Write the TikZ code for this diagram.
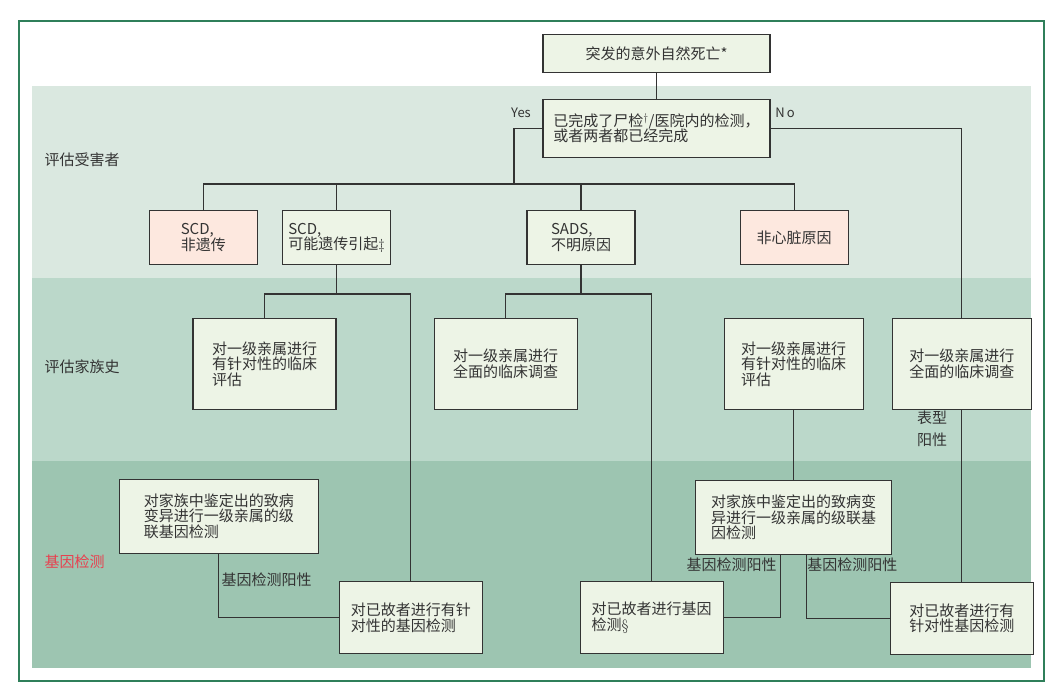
\documentclass[tikz,border=0pt]{standalone}
\usepackage{fontspec}
\newfontfamily\cjk{Noto Sans CJK SC}
\usepackage{tikz}
\usetikzlibrary{positioning}
\definecolor{bandA}{HTML}{DAE8E0}
\definecolor{bandB}{HTML}{BBD8CA}
\definecolor{bandC}{HTML}{9DC5B1}
\definecolor{boxfill}{HTML}{EDF4E6}
\definecolor{pinkfill}{HTML}{FDE8DF}
\definecolor{framegreen}{HTML}{2F7F5A}
\definecolor{labelred}{HTML}{E8404F}
\definecolor{ink}{HTML}{333333}

\begin{document}
\begin{tikzpicture}[
        x=1pt, y=-1pt,
        every node/.style = {font=\cjk\fontsize{15}{15.5}\selectfont, text=ink},
        box/.style = {draw=ink, line width=1.2pt, fill=boxfill, align=left, inner sep=0pt},
        victimbox/.style = {box, minimum width=108pt, minimum height=54pt},
        relbox/.style = {box, minimum width=143pt, minimum height=91pt},
        testbox/.style = {box, minimum width=143pt, minimum height=72pt},
        cascbox/.style = {box, minimum height=74pt},
        stage/.style = {anchor=west},
        branch/.style = {inner sep=0pt},
        tag/.style = {font=\cjk\fontsize{13}{14}\selectfont},
        link/.style = {draw=ink, line width=1.1pt},
    ]
        \useasboundingbox (0,0) rectangle (1055,686);
        % bands and frame
        \fill[bandA] (32,86) rectangle (1031,278);
        \fill[bandB] (32,278) rectangle (1031,461);
        \fill[bandC] (32,461) rectangle (1031,668);
        \draw[framegreen, line width=1.2pt] (19,21) rectangle (1044,681);

        \node[stage] (victim) at (41,160) {评估受害者};
        \node[stage] (family) at (41,367) {评估家族史};
        \node[stage, text=labelred] (genetic) at (41,562) {基因检测};

        % victim
        \node[box, minimum width=227pt, minimum height=38pt] (death) at (656.5,53.3) {突发的意外自然死亡*};
        \node[box, minimum width=227pt, minimum height=58pt] (autopsy) at (656.5,128.3) {已完成了尸检$^{\dagger}$/医院内的检测，\\或者两者都已经完成};
        \node[victimbox, fill=pinkfill] (scdnon) at (203.3,237.7) {SCD,\\非遗传};
        \node[victimbox, right=24pt of scdnon] (scdgen) {SCD,\\可能遗传引起$\ddagger$};
        \node[victimbox] (sads) at (581,237.7) {SADS,\\不明原因};
        \node[victimbox, fill=pinkfill, right=104pt of sads] (noncard) {非心脏原因};

        % family
        \node[relbox] (evalA) at (264.5,363.8) {对一级亲属进行\\有针对性的临床\\评估};
        \node[relbox, right=97pt of evalA] (fullB) {对一级亲属进行\\全面的临床调查};
        \node[relbox, minimum width=139pt] (evalC) at (793.7,363.8) {对一级亲属进行\\有针对性的临床\\评估};
        \node[relbox, minimum width=139pt, right=28pt of evalC] (fullD) {对一级亲属进行\\全面的临床调查};

        % genetic testing
        \node[cascbox, minimum width=199pt] (casc1) at (218.8,516.2) {对家族中鉴定出的致病\\变异进行一级亲属的级\\联基因检测};
        \node[testbox] (dec1) at (410.8,617.8) {对已故者进行有针\\对性的基因检测};
        \node[testbox] (dec2) at (651.7,617.8) {对已故者进行基因\\检测{\rmfamily\S}\hspace*{10pt}};
        \node[cascbox, minimum width=196pt, below=70pt of evalC] (casc2) {对家族中鉴定出的致病变\\异进行一级亲属的级联基\\因检测};
        \node[testbox, below=172pt of fullD] (dec3) {对已故者进行有\\针对性基因检测};

        % labels
        \node[tag] (yes) at (521,113) {Yes};
        \node[tag] (no) at (785,113) {N\,o};
        \node[align=center] (pheno) at (932,429) {表型\\[6.5pt]阳性};
        \node[branch] (pos1) at (266.7,579.3) {基因检测阳性};
        \node[branch] (pos2) at (731.7,565) {基因检测阳性};
        \node[branch] (pos3) at (852.3,565) {基因检测阳性};

        % connectors
        \coordinate (yesturn) at (514,184);
        \coordinate (splitA) at (scdgen.south |- 0,294);
        \coordinate (splitB) at (sads.south |- 0,294);
        \draw[link] (death) -- (autopsy);
        \draw[link] (autopsy.west) -| (yesturn);
        \draw[link] (scdnon.north) |- (yesturn) -| (noncard.north);
        \draw[link] (scdgen.north) -- (scdgen.north |- yesturn);
        \draw[link] (sads.north) -- (sads.north |- yesturn);
        \draw[link] (autopsy.east) -| (fullD.north);
        \draw[link] (scdgen.south) -- (splitA);
        \draw[link] (evalA.north) |- (splitA) -| (dec1.north);
        \draw[link] (sads.south) -- (splitB);
        \draw[link] (fullB.north) |- (splitB) -| (dec2.north);
        \draw[link] (evalC) -- (casc2);
        \draw[link] (fullD) -- (dec3);
        \draw[link] (casc1.south) |- (dec1.west);
        \draw[link] ([xshift=-13pt]casc2.south) |- (dec2.east);
        \draw[link] ([xshift=13pt]casc2.south) |- (dec3.west);
    \end{tikzpicture}
\end{document}
